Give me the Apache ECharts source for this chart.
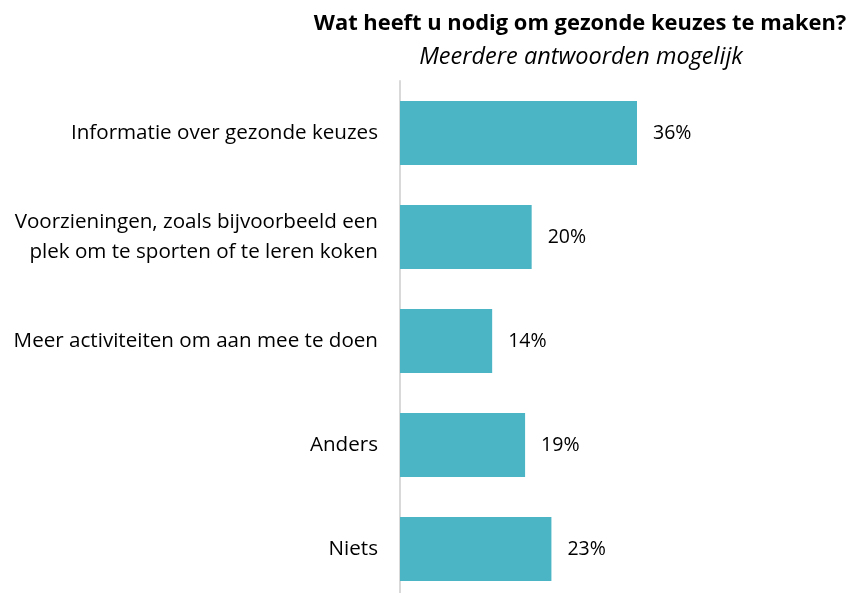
<!DOCTYPE html>
<html>
<head>
<meta charset="utf-8">
<script src="https://cdn.jsdelivr.net/npm/echarts@6/dist/echarts.min.js"></script>
<style>
  html, body { margin: 0; padding: 0; background: #fff; overflow: hidden; }
  #chart { width: 849px; height: 601px; }
</style>
</head>
<body>
<div id="chart"></div>
<script>
const titleText = 'Wat heeft u nodig om gezonde keuzes te maken?'
const subtitleText = 'Meerdere antwoorden mogelijk'
const categories = [
  'Informatie over gezonde keuzes',
  'Voorzieningen, zoals bijvoorbeeld een\nplek om te sporten of te leren koken',
  'Meer activiteiten om aan mee te doen',
  'Anders',
  'Niets'
]
const values = [36, 20, 14, 19, 23]

const chart = echarts.init(document.getElementById('chart'))
const font = '"Open Sans", "Liberation Sans", sans-serif'

const option = {
  animation: false,
  graphic: [
    {
      type: 'text',
      x: 580,
      y: 24,
      style: {
        text: titleText,
        font: 'bold 21.9px ' + font,
        fill: '#000',
        textAlign: 'center',
        textVerticalAlign: 'middle'
      }
    },
    {
      type: 'text',
      x: 581,
      y: 57,
      style: {
        text: subtitleText,
        font: 'italic 23.5px ' + font,
        fill: '#000',
        textAlign: 'center',
        textVerticalAlign: 'middle'
      }
    }
  ],
  grid: {
    left: 400,
    top: 81,
    width: 395,
    height: 520
  },
  xAxis: {
    type: 'value',
    min: 0,
    max: 60,
    show: false
  },
  yAxis: {
    type: 'category',
    data: categories,
    inverse: true,
    axisLine: {
      show: true,
      lineStyle: { color: '#d9d9d9', width: 2 }
    },
    axisTick: { show: false },
    axisLabel: {
      color: '#000',
      fontFamily: font,
      fontSize: 20.6,
      margin: 22,
      lineHeight: 30,
      align: 'right'
    }
  },
  series: [
    {
      type: 'bar',
      data: values,
      barCategoryGap: '38.5%',
      itemStyle: { color: '#4BB5C5' },
      label: {
        show: true,
        position: 'right',
        distance: 16,
        color: '#000',
        fontFamily: font,
        fontSize: 19.5,
        formatter: '{c}%'
      }
    }
  ]
}

chart.setOption(option)
</script>
</body>
</html>
